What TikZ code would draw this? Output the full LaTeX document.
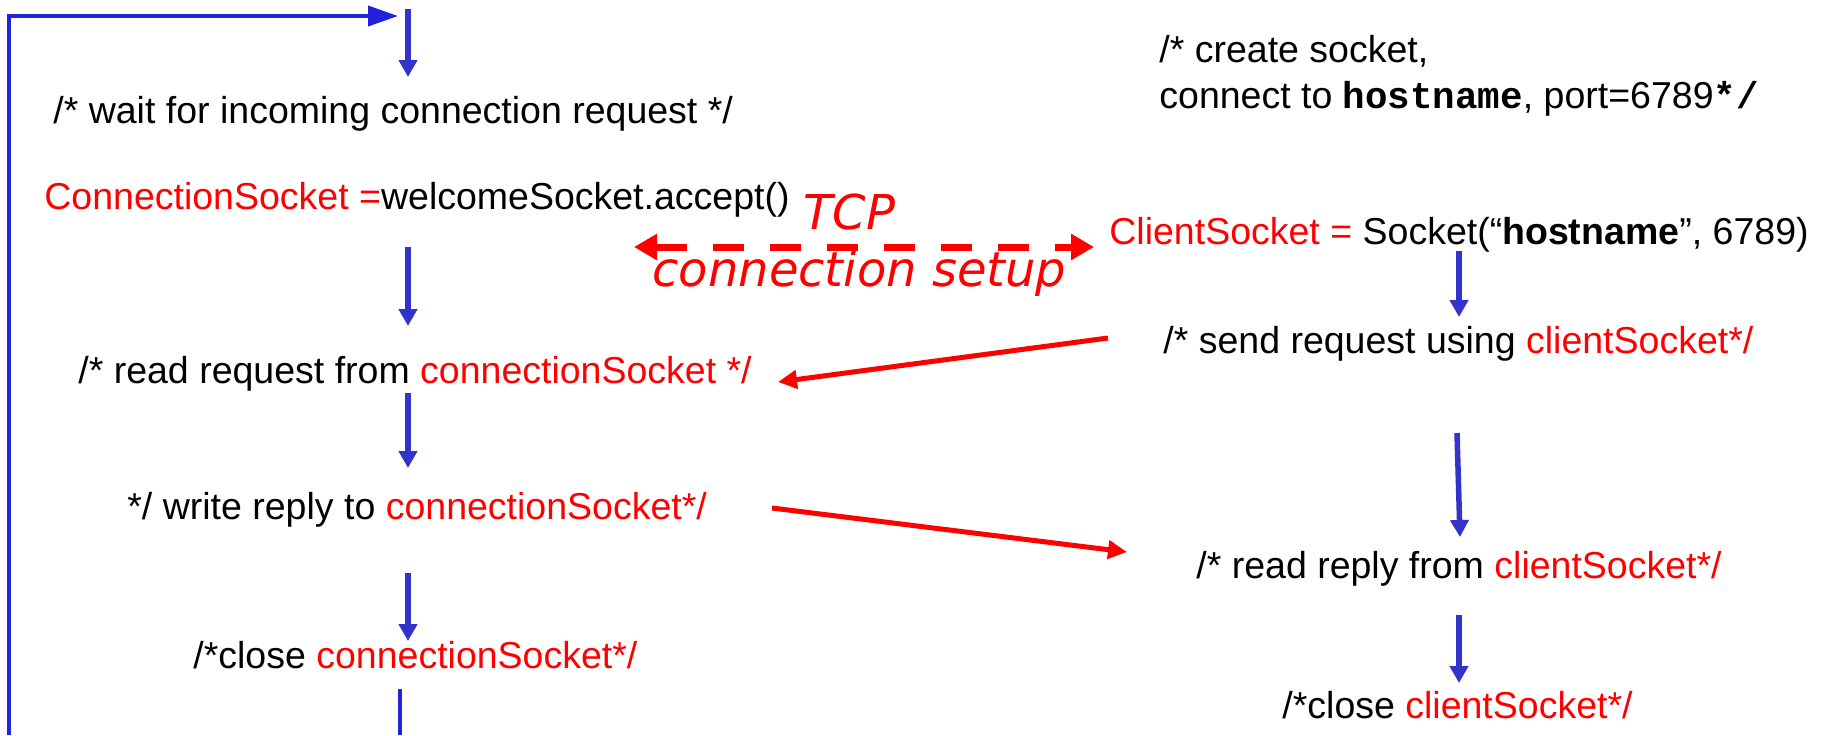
\documentclass[tikz,border=0pt]{standalone}
\usepackage{fontspec}
\setmainfont{Liberation Sans}
\newfontfamily\monofont{Liberation Mono}
\newfontfamily\tcpfont{DejaVu Sans}
\usetikzlibrary{arrows.meta,calc}
\definecolor{arrblue}{RGB}{51,51,204}
\definecolor{loopblue}{RGB}{34,34,221}
\definecolor{myred}{RGB}{255,0,0}
\newcommand{\rd}[1]{\textcolor{myred}{#1}}
\begin{document}
\begin{tikzpicture}[x=0.5pt,y=-0.5pt,
  txt/.style={anchor=base west, inner sep=0pt, font=\fontsize{18.75pt}{23pt}\selectfont},
  tcptxt/.style={anchor=base west, inner sep=0pt, text=myred, font=\tcpfont\itshape\fontsize{24pt}{28pt}\selectfont},
  flow/.style={draw=arrblue, line width=2.75pt, -{Triangle[length=8.5pt,width=9pt]}},
  loopline/.style={draw=loopblue, line width=2pt},
  msg/.style={draw=myred, line width=2.5pt, -{Triangle[length=9.5pt,width=9pt]}},
  setup/.style={draw=myred, line width=3.5pt, dash pattern=on 15.5pt off 13pt, {Triangle[length=11.5pt,width=12.5pt]}-{Triangle[length=11.5pt,width=12.5pt]}}
]
\useasboundingbox (0,0) rectangle (1825,735);

% server side texts
\node[txt] (wait) at (53,123) {/* wait for incoming connection request */};
\node[txt] (accept) at (44,209) {\rd{ConnectionSocket =}welcomeSocket.accept()};
\node[txt] (readreq) at (78,383) {/* read request from \rd{connectionSocket */}};
\node[txt] (write) at (127,519) {*/ write reply to \rd{connectionSocket*/}};
\node[txt] (closeconn) at (193,668) {/*close \rd{connectionSocket*/}};

% client side texts
\node[txt, align=left] (create) at (1159,108) {/* create socket,\\connect to {\monofont\bfseries hostname}, port=6789{\monofont\bfseries */}};
\node[txt] (client) at (1109,244) {\rd{ClientSocket =} Socket(“\textbf{hostname}”, 6789)};
\node[txt] (send) at (1163,353) {/* send request using \rd{clientSocket*/}};
\node[txt] (readreply) at (1196,578) {/* read reply from \rd{clientSocket*/}};
\node[txt] (closeclient) at (1282,718) {/*close \rd{clientSocket*/}};

% TCP label
\node[tcptxt] (tcp) at (803,229) {TCP};
\node[tcptxt] (connsetup) at (652,286) {connection setup};

% coordinates for connectors
\coordinate (s0) at (408,9);    \coordinate (e0) at (408,77);
\coordinate (s1) at (408,247);  \coordinate (e1) at (408,326);
\coordinate (s2) at (408,393);  \coordinate (e2) at (408,468);
\coordinate (s3) at (408,573);  \coordinate (e3) at (408,641);
\coordinate (c0) at (1459,251); \coordinate (d0) at (1459,317);
\coordinate (c1) at (1457,433); \coordinate (d1) at (1460,537);
\coordinate (c2) at (1459,615); \coordinate (d2) at (1459,683);
\coordinate (lb) at (400,689);  \coordinate (lbe) at (400,735);
\coordinate (ll) at (9,735);    \coordinate (lt) at (9,16);
\coordinate (ltip) at (398,16);
\coordinate (ts) at (634,247);  \coordinate (te) at (1094,247);
\coordinate (m1s) at (1108,338); \coordinate (m1e) at (778,382);
\coordinate (m2s) at (772,508);  \coordinate (m2e) at (1127,552);

% server flow arrows
\draw[flow] (s0) -- (e0);
\draw[flow] (s1) -- (e1);
\draw[flow] (s2) -- (e2);
\draw[flow] (s3) -- (e3);
% client flow arrows
\draw[flow] (c0) -- (d0);
\draw[flow] (c1) -- (d1);
\draw[flow] (c2) -- (d2);

% loop back
\draw[loopline] (lb) -- (lbe);
\draw[loopline, -{Triangle[length=15pt,width=10pt]}] (ll) -- (lt) -- (ltip);

% TCP connection setup
\draw[setup] (ts) -- (te);

% messages
\draw[msg] (m1s) -- (m1e);
\draw[msg] (m2s) -- (m2e);
\end{tikzpicture}
\end{document}
